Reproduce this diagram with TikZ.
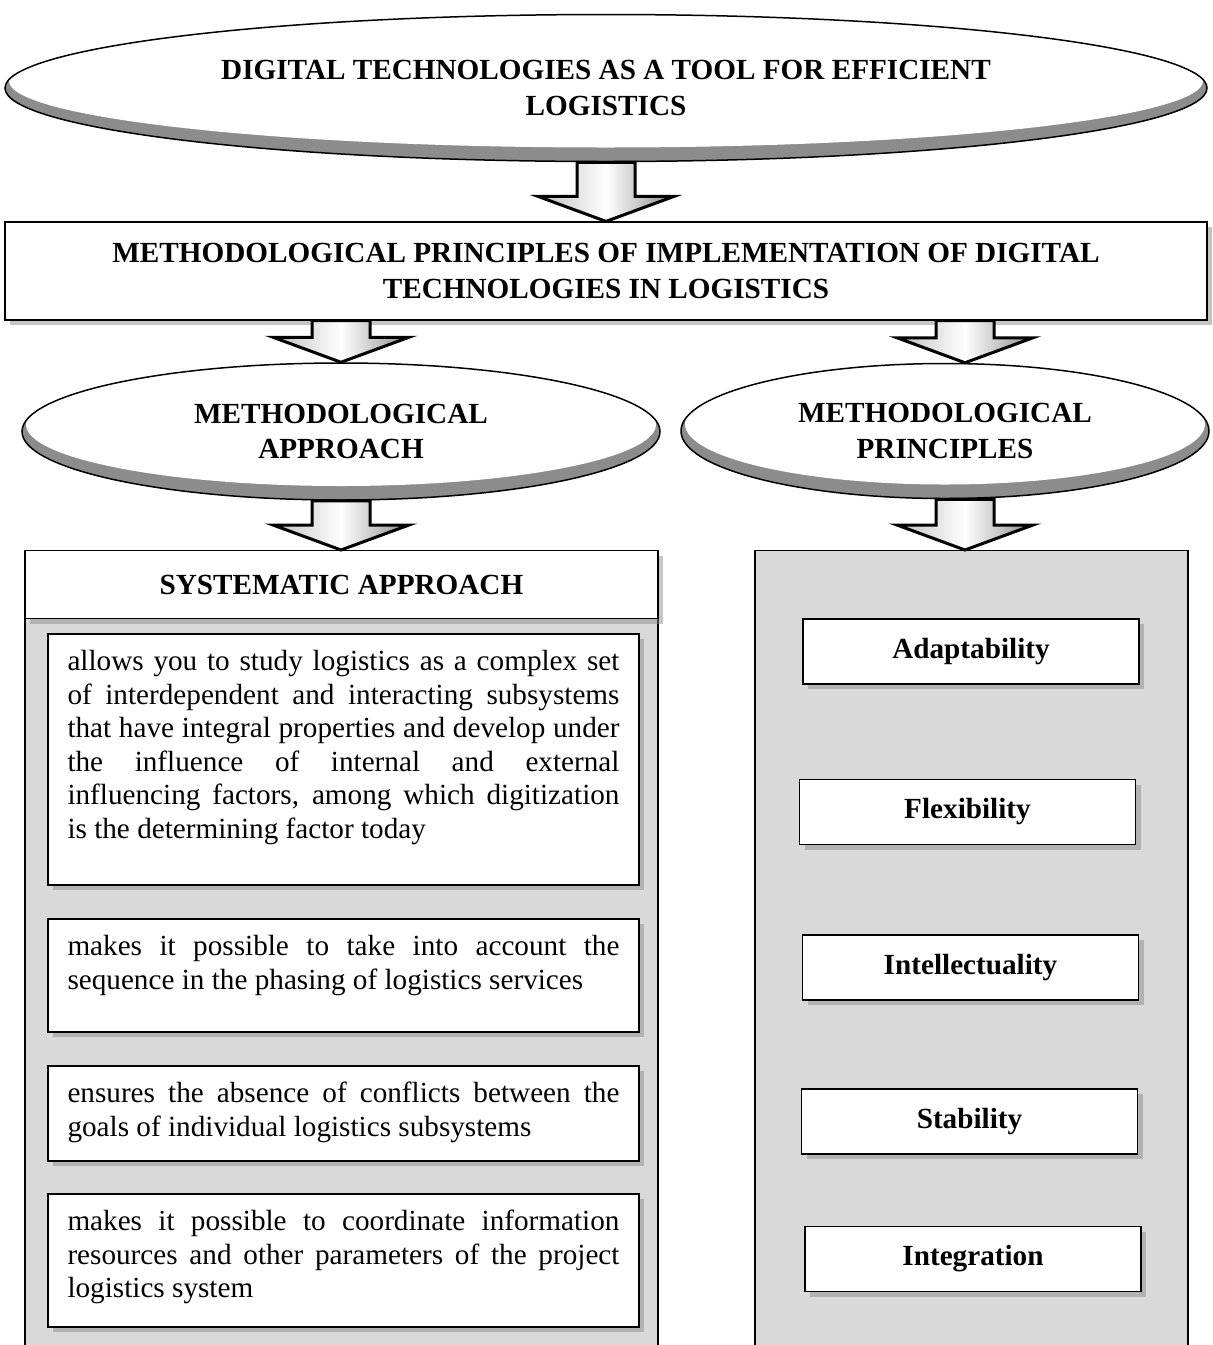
\documentclass[tikz,border=0pt]{standalone}
\usepackage{fontspec}
\setmainfont{Liberation Serif}
\usetikzlibrary{shapes.geometric}
\usetikzlibrary{calc}
\usetikzlibrary{shadows}

\newcommand{\bodyfont}{\fontsize{29.2}{33.6}\selectfont}
\newcommand{\headfont}{\fontsize{29.2}{35.5}\selectfont\bfseries}
% text of a box, top aligned, #1 = box height
\newcommand{\sabox}[2]{\parbox[c][\dimexpr#1pt-26pt\relax][t]{552pt}{\tolerance=10000\strut #2}}
% hollow down arrow from #1 to tip #2
\newcommand{\downblock}[2]{%
  \path[blockarrow] let \p1=(#1), \p2=(#2) in
    (\x2-29pt,\y1) -- (\x2+29pt,\y1) -- (\x2+29pt,\y2+25pt) -- (\x2+68pt,\y2+25pt)
    -- (\x2,\y2) -- (\x2-68pt,\y2+25pt) -- (\x2-29pt,\y2+25pt) -- cycle;}

\tikzset{
  oval/.style={ellipse, draw, line width=1.5pt, fill=black!45, inner sep=0pt, align=center, font=\headfont,
    path picture={\fill[white] let \p1=(path picture bounding box.south west), \p2=(path picture bounding box.north east)
      in ($(\p1)!0.5!(\p2)+(0pt,7pt)$) ellipse ({(\x2-\x1)/2-4pt} and {(\y2-\y1)/2-7pt});}},
  whitebox/.style={draw, line width=1.2pt, fill=white, drop shadow={shadow xshift=5pt, shadow yshift=-5pt, fill=black!45}},
  panel/.style={draw, line width=1.2pt, fill=black!15},
  textbox/.style={whitebox, inner xsep=19.5pt, inner ysep=13pt, font=\bodyfont},
  prinbox/.style={whitebox, minimum width=336, minimum height=65, font=\headfont},
  blockarrow/.style={draw=black, line width=3pt, line join=miter, left color=black!25, right color=black!45, middle color=white}
}

\begin{document}
\begin{tikzpicture}[line cap=round,x=1pt,y=-1pt]
\useasboundingbox (0,0) rectangle (1213,1345);
\clip (0,0) rectangle (1213,1345);

% top
\node[oval, minimum width=1202, minimum height=147] (digital) at (606,88) {DIGITAL TECHNOLOGIES AS A TOOL FOR EFFICIENT\\LOGISTICS};
\node[whitebox, minimum width=1202, minimum height=98, font=\headfont, align=center] (method) at (606,271) {METHODOLOGICAL PRINCIPLES OF IMPLEMENTATION OF DIGITAL\\TECHNOLOGIES IN LOGISTICS};
\node[oval, minimum width=638, minimum height=137] (approach) at (341,431.5) {METHODOLOGICAL\\APPROACH};
\node[oval, minimum width=528, minimum height=135] (principles) at (945,431) {METHODOLOGICAL\\PRINCIPLES};

% left column
\node[panel, anchor=north, minimum width=633, minimum height=850] (lpanel) at (341.5,550) {};
\node[whitebox, anchor=north, minimum width=633, minimum height=68, font=\headfont] (system) at (341.5,550) {SYSTEMATIC APPROACH};
\node[textbox] (sa1) at (343.5,759.5) {\sabox{251}{allows you to study logistics as a complex set\linebreak of interdependent and interacting subsystems\linebreak that have integral properties and develop under\linebreak the influence of internal and external\linebreak influencing factors, among which digitization\linebreak is the determining factor today}};
\node[textbox] (sa2) at (343.5,975.5) {\sabox{113}{makes it possible to take into account the\linebreak sequence in the phasing of logistics services}};
\node[textbox] (sa3) at (343.5,1113.5) {\sabox{95}{ensures the absence of conflicts between the\linebreak goals of individual logistics subsystems}};
\node[textbox] (sa4) at (343.5,1260.5) {\sabox{133}{makes it possible to coordinate information\linebreak resources and other parameters of the project\linebreak logistics system}};

% right column
\node[panel, anchor=north, minimum width=433, minimum height=850] (rpanel) at (971.5,550) {};
\node[prinbox] (adapt) at (971,651.5) {Adaptability};
\node[prinbox] (flex) at (967.5,812) {Flexibility};
\node[prinbox] (intel) at (970.5,967.5) {Intellectuality};
\node[prinbox] (stab) at (969.5,1121.5) {Stability};
\node[prinbox] (integ) at (973,1259) {Integration};

% arrows
\downblock{digital.south}{digital.south |- method.north}
\downblock{method.south -| approach.north}{approach.north}
\downblock{$(method.south -| principles.north)+(20,0)$}{$(principles.north)+(20,0)$}
\downblock{approach.south}{approach.south |- system.north}
\downblock{$(principles.south)+(20,0)$}{$(principles.south |- rpanel.north)+(20,0)$}
\end{tikzpicture}
\end{document}
